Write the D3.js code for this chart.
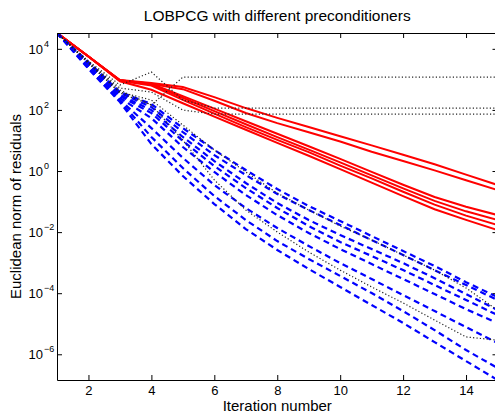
<!DOCTYPE html>
<html>
<head>
<meta charset="utf-8">
<script src="https://cdn.jsdelivr.net/npm/d3@7/dist/d3.min.js"></script>
<style>
  body { margin: 0; background: #fff }
  text { font-family: "Liberation Sans", Arial, Helvetica, sans-serif; fill: #000 }
</style>
</head>
<body>
<div id="app"></div>
<script>
// iteration numbers on the x axis
const iterations = [1, 2, 3, 4, 5, 6, 7, 8, 9, 10, 11, 12, 13, 14, 15]
const xTicks = [2, 4, 6, 8, 10, 12, 14]
const yTickExponents = [4, 2, 0, -2, -4, -6]
const yDomain = [1.44e-7, 3.3e4]

// solid red runs
const redLines = [
  [3.3e4, 5.6e3, 955, 759, 562, 263, 115, 55, 27.5, 13.8, 6.9, 3.4, 1.66, 0.76, 0.35],
  [3.3e4, 5.6e3, 933, 708, 479, 200, 79, 37, 18.6, 9.3, 4.3, 2.14, 1.05, 0.5, 0.24],
  [3.3e4, 5.6e3, 933, 724, 282, 110, 42.7, 16.6, 6.46, 2.51, 0.933, 0.355, 0.141, 0.0676, 0.0363],
  [3.3e4, 5.6e3, 912, 692, 251, 91.2, 33.9, 12.9, 5.01, 1.91, 0.724, 0.269, 0.105, 0.0479, 0.0251],
  [3.3e4, 5.6e3, 891, 631, 214, 75.9, 27.5, 10.5, 4.17, 1.51, 0.575, 0.209, 0.0794, 0.0347, 0.017],
  [3.3e4, 5.6e3, 871, 457, 166, 60.3, 22.4, 8.32, 3.16, 1.15, 0.417, 0.151, 0.0562, 0.0251, 0.0117],
]

// dashed blue runs
const blueLines = [
  [3.3e4, 3.7e3, 385, 156, 25.5, 4.9, 1.08, 0.257, 0.0714, 0.0231, 0.00745, 0.0024, 0.00078, 0.00023, 7.5e-5],
  [3.3e4, 3.4e3, 357, 124, 18.9, 3.33, 0.74, 0.177, 0.053, 0.0171, 0.0055, 0.00178, 0.00057, 0.000185, 6.0e-5],
  [3.3e4, 3.2e3, 307, 99, 13, 2.12, 0.405, 0.0895, 0.0249, 0.00803, 0.00279, 0.00097, 0.00031, 9.4e-5, 2.8e-5],
  [3.3e4, 2.9e3, 285, 79, 9.6, 1.46, 0.277, 0.0615, 0.0158, 0.00474, 0.00165, 0.00057, 0.000185, 6.0e-5, 1.93e-5],
  [3.3e4, 2.7e3, 245, 54, 6.1, 0.93, 0.164, 0.036, 0.00933, 0.00279, 0.0009, 0.000291, 9.4e-5, 3.0e-5, 1.06e-5],
  [3.3e4, 2.5e3, 211, 25.5, 2.7, 0.348, 0.0615, 0.0136, 0.00351, 0.00097, 0.000291, 8.7e-5, 2.6e-5, 7.8e-6, 2.34e-6],
  [3.3e4, 2.35e3, 195, 13, 1.25, 0.152, 0.0249, 0.0051, 0.00132, 0.000366, 0.000101, 2.6e-5, 6.2e-6, 1.38e-6, 3.56e-7],
  [3.3e4, 2.2e3, 181, 7.6, 0.685, 0.083, 0.0126, 0.0026, 0.00062, 0.00016, 4.1e-5, 1.06e-5, 2.5e-6, 6.0e-7, 1.44e-7],
]

// dotted black runs
const dottedLines = [
  [3.3e4, 3.7e3, 448, 145, 1.19e3, 1.19e3, 1.19e3, 1.19e3, 1.19e3, 1.19e3, 1.19e3, 1.19e3, 1.19e3, 1.19e3, 1.19e3],
  [3.3e4, 3.98e3, 653, 1.74e3, 211, 115, 115, 115, 115, 115, 115, 115, 115, 115, 115],
  [3.3e4, 3.7e3, 520, 385, 99, 73, 73, 73, 73, 73, 73, 73, 73, 73, 73],
  [3.3e4, 3.4e3, 385, 211, 32, 4.9, 0.93, 0.19, 0.053, 0.0158, 0.0055, 0.00178, 0.00057, 0.000148, 2.8e-5],
  [3.3e4, 3.4e3, 357, 145, 10.3, 0.51, 0.053, 0.0101, 0.00223, 0.00057, 0.00016, 4.8e-5, 1.32e-5, 3.7e-6, 2.9e-6],
]

const W = 495, H = 413
const plot = { left: 57, right: 497.5, top: 33, bottom: 380 }

const svg = d3.select("#app")
  .append("svg")
    .attr("width", W)
    .attr("height", H)

const x = d3.scaleLinear().domain([1, 15]).range([plot.left, plot.right])
const y = d3.scaleLog().domain(yDomain).range([plot.bottom, plot.top])

svg.append("defs").append("clipPath")
    .attr("id", "clip")
  .append("rect")
    .attr("x", plot.left)
    .attr("y", plot.top)
    .attr("width", plot.right - plot.left)
    .attr("height", plot.bottom - plot.top)

const line = d3.line()
  .x((d, i) => x(iterations[i]))
  .y(d => y(d))

const g = svg.append("g").attr("clip-path", "url(#clip)")

g.append("g")
    .attr("fill", "none")
    .attr("stroke", "#ff0000")
    .attr("stroke-width", 2)
  .selectAll("path")
  .data(redLines)
  .join("path")
    .attr("d", line)

g.append("g")
    .attr("fill", "none")
    .attr("stroke", "#0000ff")
    .attr("stroke-width", 2.2)
    .attr("stroke-dasharray", "6,4")
  .selectAll("path")
  .data(blueLines)
  .join("path")
    .attr("d", line)

g.append("g")
    .attr("fill", "none")
    .attr("stroke", "#222")
    .attr("stroke-width", 1.2)
    .attr("stroke-dasharray", "1.2,2.2")
  .selectAll("path")
  .data(dottedLines)
  .join("path")
    .attr("d", line)

// box with inward ticks (matlab style)
const tickLen = 5
const yTickVals = yTickExponents.map(e => Math.pow(10, e))

svg.append("g")
    .attr("transform", `translate(0,${plot.bottom})`)
    .call(d3.axisBottom(x).tickValues(xTicks).tickSize(-tickLen).tickPadding(6).tickSizeOuter(0))
    .call(a => a.selectAll("text").attr("font-size", 13).attr("font-family", null))
svg.append("g")
    .attr("transform", `translate(0,${plot.top})`)
    .call(d3.axisTop(x).tickValues(xTicks).tickSize(-tickLen).tickFormat("").tickSizeOuter(0))
svg.append("g")
    .attr("transform", `translate(${plot.left},0)`)
    .call(d3.axisLeft(y).tickValues(yTickVals).tickSize(-tickLen).tickFormat("").tickSizeOuter(0))
svg.append("g")
    .attr("transform", `translate(${plot.right},0)`)
    .call(d3.axisRight(y).tickValues(yTickVals).tickSize(-tickLen).tickFormat("").tickSizeOuter(0))

svg.selectAll(".domain").attr("stroke", "#000").attr("stroke-width", 1)
svg.selectAll(".tick line").attr("stroke", "#000")

// y tick labels as 10^n
const yl = svg.append("g").selectAll("g")
  .data(yTickExponents)
  .join("g")
yl.append("text")
    .attr("x", 43)
    .attr("y", e => y(Math.pow(10, e)) + 5)
    .attr("text-anchor", "end")
    .attr("font-size", 13)
    .text("10")
yl.append("text")
    .attr("x", 44)
    .attr("y", e => y(Math.pow(10, e)) - 2)
    .attr("font-size", 9)
    .text(e => e < 0 ? "\u2212" + (-e) : e)

svg.append("text")
    .attr("x", (plot.left + plot.right) / 2)
    .attr("y", 20.5)
    .attr("text-anchor", "middle")
    .attr("font-size", 15.5)
    .text("LOBPCG with different preconditioners")

svg.append("text")
    .attr("x", (plot.left + plot.right) / 2)
    .attr("y", 411)
    .attr("text-anchor", "middle")
    .attr("font-size", 15)
    .text("Iteration number")

svg.append("text")
    .attr("transform", `translate(20.5,${(plot.top + plot.bottom) / 2}) rotate(-90)`)
    .attr("text-anchor", "middle")
    .attr("font-size", 15)
    .text("Euclidean norm of residuals")
</script>
</body>
</html>
